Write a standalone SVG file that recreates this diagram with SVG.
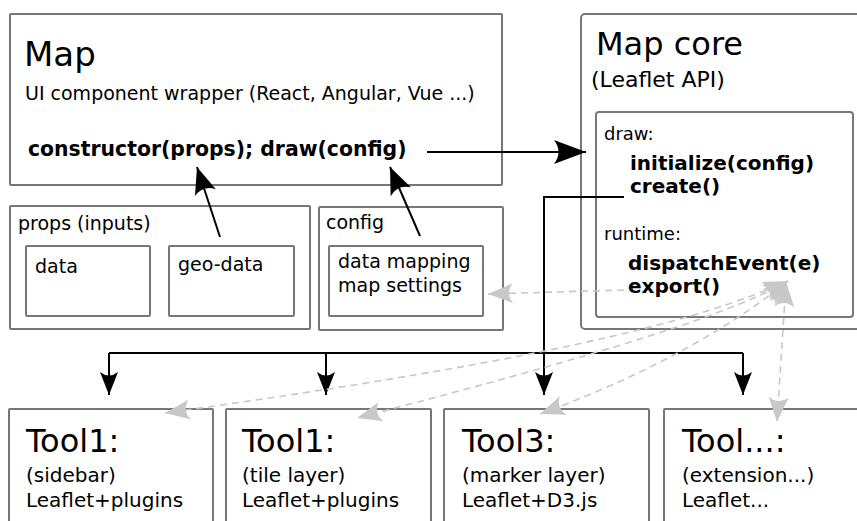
<svg xmlns="http://www.w3.org/2000/svg" width="857" height="521" viewBox="0 0 857 521">
<style>
.box{fill:#fff;stroke:#777;stroke-width:2}
.t{font-family:"DejaVu Sans","Liberation Sans",sans-serif;fill:#000}
.b{font-weight:bold}
.blk{fill:none;stroke:#000;stroke-width:2}
.gry{fill:none;stroke:#c8c8c8;stroke-width:1.6;stroke-dasharray:7,5}
</style>
<defs>
<marker id="ab" markerUnits="userSpaceOnUse" orient="auto" overflow="visible" refX="0" refY="0" markerWidth="1" markerHeight="1">
<path d="M0,0 L-32,-12 Q-23,0 -32,12 Z" fill="#000"/>
</marker>
<marker id="am" markerUnits="userSpaceOnUse" orient="auto" overflow="visible" refX="0" refY="0" markerWidth="1" markerHeight="1">
<path d="M0,0 L-27,-11 Q-19,0 -27,11 Z" fill="#000"/>
</marker>
<marker id="as" markerUnits="userSpaceOnUse" orient="auto" overflow="visible" refX="0" refY="0" markerWidth="1" markerHeight="1">
<path d="M0,0 L-23,-9 Q-16,0 -23,9 Z" fill="#000"/>
</marker>
<marker id="ag" markerUnits="userSpaceOnUse" orient="auto-start-reverse" overflow="visible" refX="0" refY="0" markerWidth="1" markerHeight="1">
<path d="M0,0 L-25,-10 Q-17,0 -25,10 Z" fill="#c8c8c8"/>
</marker>
</defs>

<g id="map">
<rect class="box" x="10" y="14" width="492" height="171" rx="1"/>
<text class="t" x="24" y="66" font-size="34">Map</text>
<text class="t" x="25" y="100" font-size="19">UI component wrapper (React, Angular, Vue ...)</text>
<text class="t b" x="28" y="156" font-size="20.4">constructor(props); draw(config)</text>
</g>

<g id="props">
<rect class="box" x="10" y="206" width="300" height="123" rx="1"/>
<text class="t" x="18" y="230" font-size="19">props (inputs)</text>
</g>
<g id="data">
<rect class="box" x="26" y="246" width="124" height="70" rx="1"/>
<text class="t" x="35" y="273" font-size="19">data</text>
</g>
<g id="geo-data">
<rect class="box" x="169" y="246" width="125" height="70" rx="1"/>
<text class="t" x="178" y="271" font-size="19">geo-data</text>
</g>
<g id="config">
<rect class="box" x="319" y="207" width="184" height="123" rx="1"/>
<text class="t" x="326" y="229" font-size="19">config</text>
</g>
<g id="config-items">
<rect class="box" x="329" y="246" width="154" height="70" rx="1"/>
<text class="t" x="338" y="268" font-size="19">data mapping</text>
<text class="t" x="338" y="292" font-size="19">map settings</text>
</g>

<g id="mapcore">
<rect class="box" x="581" y="14" width="290" height="315" rx="4" stroke-width="3"/>
<text class="t" x="596" y="55" font-size="32">Map core</text>
<text class="t" x="591" y="87" font-size="22">(Leaflet API)</text>
</g>
<g id="api">
<rect class="box" x="596" y="112" width="257" height="205" rx="3"/>
<text class="t" x="604" y="140" font-size="18">draw:</text>
<text class="t b" x="630" y="170" font-size="20">initialize(config)</text>
<text class="t b" x="630" y="193" font-size="20">create()</text>
<text class="t" x="604" y="240" font-size="18">runtime:</text>
<text class="t b" x="628" y="270" font-size="20">dispatchEvent(e)</text>
<text class="t b" x="628" y="293" font-size="20">export()</text>
</g>

<g id="tool1">
<rect class="box" x="9" y="409" width="204" height="140" rx="1"/>
<text class="t" x="26" y="452" font-size="32">Tool1:</text>
<text class="t" x="26" y="482" font-size="20">(sidebar)</text>
<text class="t" x="26" y="507" font-size="20">Leaflet+plugins</text>
</g>
<g id="tool2">
<rect class="box" x="226" y="409" width="205" height="140" rx="1"/>
<text class="t" x="242" y="452" font-size="32">Tool1:</text>
<text class="t" x="242" y="482" font-size="20">(tile layer)</text>
<text class="t" x="242" y="507" font-size="20">Leaflet+plugins</text>
</g>
<g id="tool3">
<rect class="box" x="444" y="409" width="205" height="140" rx="1"/>
<text class="t" x="462" y="452" font-size="32">Tool3:</text>
<text class="t" x="462" y="482" font-size="20">(marker layer)</text>
<text class="t" x="462" y="507" font-size="20">Leaflet+D3.js</text>
</g>
<g id="tool4">
<rect class="box" x="664" y="409" width="210" height="140" rx="1"/>
<text class="t" x="682" y="452" font-size="32">Tool...:</text>
<text class="t" x="682" y="482" font-size="20">(extension...)</text>
<text class="t" x="682" y="507" font-size="20">Leaflet...</text>
</g>

<g id="connectors">
<path class="blk" d="M427,152 L586,152" marker-end="url(#ab)"/>
<path class="blk" d="M220,237 L197,167" marker-end="url(#am)"/>
<path class="blk" d="M420,236 L390,167" marker-end="url(#am)"/>
<path class="blk" d="M624,197 L544,197 L544,395" marker-end="url(#as)"/>
<path class="blk" d="M109,353 L743,353"/>
<path class="blk" d="M109,353 L109,395" marker-end="url(#as)"/>
<path class="blk" d="M326,353 L326,395" marker-end="url(#as)"/>
<path class="blk" d="M743,353 L743,395" marker-end="url(#as)"/>
<path class="gry" d="M624,290 L488,294" marker-end="url(#ag)"/>
<path class="gry" d="M788,281 C700,320 560,358 165,413" marker-start="url(#ag)" marker-end="url(#ag)"/>
<path class="gry" d="M788,281 C720,320 560,365 357,418" marker-start="url(#ag)" marker-end="url(#ag)"/>
<path class="gry" d="M788,281 C740,320 660,370 540,414" marker-start="url(#ag)" marker-end="url(#ag)"/>
<path class="gry" d="M786,282 L777,422" marker-start="url(#ag)" marker-end="url(#ag)"/>
</g>
</svg>
